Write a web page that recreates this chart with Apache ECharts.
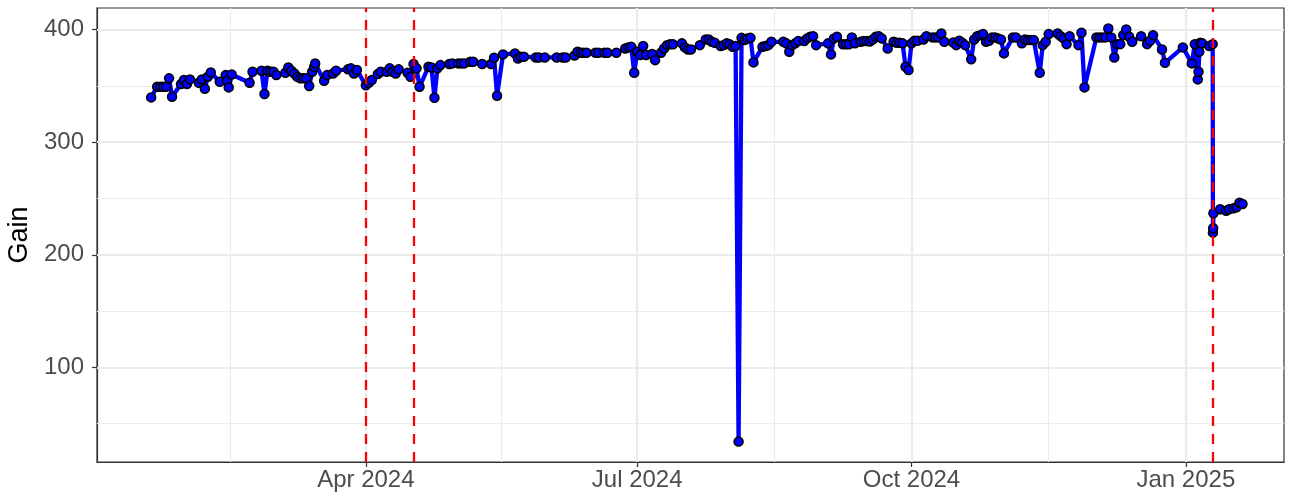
<!DOCTYPE html>
<html><head><meta charset="utf-8">
<script src="https://cdn.jsdelivr.net/npm/echarts@6/dist/echarts.min.js"></script>
<style>html,body{margin:0;padding:0;background:#fff}#c{width:1294px;height:499px}</style>
</head><body><div id="c"></div>
<script>
// ---- data ----
const dates = [
'2024-01-20','2024-01-22','2024-01-23','2024-01-24','2024-01-25','2024-01-26','2024-01-27','2024-01-30','2024-01-31','2024-02-01',
'2024-02-02','2024-02-05','2024-02-06','2024-02-07','2024-02-08','2024-02-09','2024-02-12','2024-02-14','2024-02-14 12:00','2024-02-15',
'2024-02-16','2024-02-22','2024-02-23','2024-02-26','2024-02-27','2024-02-28','2024-02-29','2024-03-01','2024-03-02','2024-03-05',
'2024-03-06','2024-03-07','2024-03-08','2024-03-09','2024-03-10','2024-03-11','2024-03-12','2024-03-13','2024-03-14','2024-03-14 16:00',
'2024-03-15','2024-03-18','2024-03-19','2024-03-21','2024-03-22','2024-03-26','2024-03-27','2024-03-28','2024-03-29','2024-04-01',
'2024-04-02','2024-04-03','2024-04-05','2024-04-06','2024-04-08','2024-04-09','2024-04-10','2024-04-11','2024-04-12','2024-04-15',
'2024-04-16','2024-04-17','2024-04-18','2024-04-19','2024-04-22','2024-04-23','2024-04-24','2024-04-25','2024-04-26','2024-04-29',
'2024-04-30','2024-05-02','2024-05-03','2024-05-04','2024-05-06','2024-05-07','2024-05-10','2024-05-13','2024-05-14','2024-05-15',
'2024-05-17','2024-05-21','2024-05-22','2024-05-23','2024-05-24','2024-05-28','2024-05-29','2024-05-31','2024-06-04','2024-06-06',
'2024-06-07','2024-06-10','2024-06-11','2024-06-12','2024-06-13','2024-06-14','2024-06-17','2024-06-18','2024-06-20','2024-06-21',
'2024-06-24','2024-06-27','2024-06-28','2024-06-29','2024-06-30','2024-07-01','2024-07-02','2024-07-03','2024-07-04','2024-07-06',
'2024-07-07','2024-07-09','2024-07-10','2024-07-11','2024-07-12','2024-07-13','2024-07-16','2024-07-17','2024-07-18','2024-07-19',
'2024-07-22','2024-07-24','2024-07-25','2024-07-26','2024-07-27','2024-07-29','2024-07-30','2024-07-31','2024-08-01','2024-08-02',
'2024-08-03','2024-08-04','2024-08-05','2024-08-06','2024-08-07','2024-08-08','2024-08-09','2024-08-12','2024-08-13','2024-08-14',
'2024-08-15','2024-08-19','2024-08-20','2024-08-21','2024-08-22','2024-08-23','2024-08-24','2024-08-26','2024-08-27','2024-08-28',
'2024-08-29','2024-08-30','2024-09-03','2024-09-04','2024-09-05','2024-09-06','2024-09-08','2024-09-09','2024-09-10','2024-09-11',
'2024-09-12','2024-09-14','2024-09-15','2024-09-16','2024-09-17','2024-09-18','2024-09-19','2024-09-20','2024-09-21','2024-09-23',
'2024-09-25','2024-09-26','2024-09-27','2024-09-28','2024-09-29','2024-09-30','2024-10-01','2024-10-02','2024-10-03','2024-10-05',
'2024-10-06','2024-10-08','2024-10-09','2024-10-10','2024-10-11','2024-10-12','2024-10-15','2024-10-16','2024-10-17','2024-10-18',
'2024-10-19','2024-10-21','2024-10-22','2024-10-23','2024-10-24','2024-10-25','2024-10-26','2024-10-27','2024-10-28','2024-10-29',
'2024-10-30','2024-10-31','2024-11-01','2024-11-04','2024-11-05','2024-11-07','2024-11-08','2024-11-09','2024-11-10','2024-11-11',
'2024-11-13','2024-11-14','2024-11-15','2024-11-16','2024-11-19','2024-11-20','2024-11-21','2024-11-22','2024-11-23','2024-11-26',
'2024-11-27','2024-11-28','2024-12-02','2024-12-03','2024-12-04','2024-12-05','2024-12-06','2024-12-07','2024-12-08','2024-12-09',
'2024-12-10','2024-12-11','2024-12-12','2024-12-13','2024-12-14','2024-12-17','2024-12-19','2024-12-20','2024-12-21','2024-12-24',
'2024-12-25','2024-12-31','2025-01-03','2025-01-04','2025-01-05','2025-01-05 06:00','2025-01-05 12:00','2025-01-05 20:00','2025-01-06 12:00','2025-01-08 20:00',
'2025-01-10','2025-01-10 02:00','2025-01-10 04:00','2025-01-10 06:00','2025-01-12 12:00','2025-01-14 12:00','2025-01-15 12:00','2025-01-17','2025-01-18','2025-01-19',
'2025-01-20'
];
const gains = [
339.8,349.2,349.2,349.2,349.2,356.7,340.4,351.6,355.2,351.6,
355.8,352.8,355.8,347.5,358.1,362.0,353.7,359.6,354.6,348.7,
360.2,352.8,362.6,363.5,342.8,363.5,362.6,362.6,359.6,361.7,
366.4,363.5,361.1,358.1,356.7,356.7,356.7,349.9,362.6,367.0,
370.0,354.6,359.6,361.1,363.5,364.7,365.6,361.1,364.1,350.5,
352.8,355.2,360.5,362.6,362.6,365.6,362.6,361.1,364.7,361.7,
358.1,369.4,365.6,349.2,367.0,366.4,339.5,365.6,368.5,369.4,
370.0,370.0,370.0,370.0,371.4,371.4,369.4,369.4,375.0,341.3,
378.0,378.9,374.4,375.9,375.9,375.3,375.3,375.3,375.3,375.3,
375.3,377.0,380.3,379.4,379.4,379.4,379.4,379.4,379.4,379.4,
379.4,383.3,384.2,384.7,361.7,380.3,377.4,385.4,377.4,378.3,
372.9,379.4,383.3,386.2,386.9,386.9,387.8,384.2,382.4,382.4,
386.2,391.3,391.3,389.2,388.3,385.4,386.2,387.8,386.9,384.7,
385.4,34.1,392.7,390.7,392.2,392.7,370.9,384.7,385.4,386.2,
389.2,389.2,387.8,380.3,386.2,387.8,389.8,389.8,392.2,393.6,
394.2,386.2,387.8,378.0,392.2,393.6,386.9,386.9,386.9,393.1,
387.8,389.2,389.8,389.8,389.5,391.3,393.6,394.2,392.2,383.3,
389.2,388.3,388.3,387.8,367.0,364.1,387.8,390.1,390.1,391.3,
394.2,393.1,393.1,393.1,396.6,389.2,388.6,386.2,390.1,388.3,
386.2,373.6,391.3,394.2,395.1,396.0,389.2,390.1,393.1,393.1,
392.2,391.3,378.9,393.1,393.1,387.8,391.3,390.7,390.7,390.7,
361.7,386.2,389.2,396.0,396.6,394.2,392.2,387.1,394.2,386.2,
397.2,348.7,393.1,393.1,393.1,393.1,401.0,393.1,375.3,387.1,
387.1,395.1,400.1,393.6,389.2,394.2,387.1,390.1,395.1,382.4,
370.5,384.2,370.0,387.1,355.8,362.6,380.3,388.3,387.8,385.4,
387.1,219.7,223.6,236.9,240.5,239.2,240.5,241.3,242.2,246.3,
245.2
];
const xTickDates = ['2024-04-01','2024-07-01','2024-10-01','2025-01-01'];
const xTickLabels = ['Apr 2024','Jul 2024','Oct 2024','Jan 2025'];
const xMinorDates = ['2024-02-15 12:00','2024-05-16 12:00','2024-08-16','2024-11-16'];
const yTicks = [100, 200, 300, 400];
const yMinorTicks = [50, 150, 250, 350];
const eventDates = ['2024-04-01','2024-04-17','2025-01-10'];
const xRange = ['2024-01-01 20:00','2025-02-02 22:00'];
const yRange = [16, 419.2];
const yTitle = 'Gain';

// ---- helpers ----
function t(s){
  const parts = s.split(' ');
  const d = parts[0].split('-').map(Number);
  let h = 0, mi = 0;
  if (parts[1]) { const tm = parts[1].split(':').map(Number); h = tm[0]; mi = tm[1]; }
  return new Date(d[0], d[1]-1, d[2], h, mi).getTime();
}
const seriesData = dates.map((d,i)=>[t(d), gains[i]]);
const xTickVals = xTickDates.map(t);
const GRID = '#EBEBEB';
const gridLines = []
  .concat(yMinorTicks.map(v=>({yAxis:v, lineStyle:{color:GRID,width:1.1,type:'solid'}})))
  .concat(xMinorDates.map(d=>({xAxis:t(d), lineStyle:{color:GRID,width:1.1,type:'solid'}})))
  .concat(yTicks.map(v=>({yAxis:v, lineStyle:{color:GRID,width:2.2,type:'solid'}})))
  .concat(xTickDates.map(d=>({xAxis:t(d), lineStyle:{color:GRID,width:2.2,type:'solid'}})));

const FONT = '"Liberation Sans", Arial, sans-serif';
const chart = echarts.init(document.getElementById('c'), null, {renderer:'canvas'});
chart.setOption({
  animation:false,
  backgroundColor:'#ffffff',
  grid:{left:97,right:10,top:8,bottom:37,show:true,containLabel:false,outerBoundsMode:'none',
        borderColor:'#333333',borderWidth:1.2,backgroundColor:'#ffffff'},
  xAxis:{
    type:'value', min:t(xRange[0]), max:t(xRange[1]), scale:true,
    splitLine:{show:false}, minorSplitLine:{show:false},
    axisLine:{show:true,onZero:false,lineStyle:{color:'#333333',width:1.2}},
    axisTick:{show:true,customValues:xTickVals,length:5,lineStyle:{color:'#333333',width:1.2}},
    axisLabel:{customValues:xTickVals,fontSize:24,color:'#4D4D4D',fontFamily:FONT,margin:6,
      formatter:function(v){const i=xTickVals.indexOf(v); return i>=0?xTickLabels[i]:'';}}
  },
  yAxis:{
    type:'value', min:yRange[0], max:yRange[1],
    splitLine:{show:false},
    axisLine:{show:true,onZero:false,lineStyle:{color:'#333333',width:1.2}},
    axisTick:{show:true,customValues:yTicks,length:5,lineStyle:{color:'#333333',width:1.2}},
    axisLabel:{customValues:yTicks,fontSize:24,color:'#4D4D4D',fontFamily:FONT,margin:13},
    name:yTitle, nameLocation:'middle', nameRotate:90, nameGap:62,
    nameTextStyle:{fontSize:27,color:'#000000',fontFamily:FONT}
  },
  series:[
    {type:'line', data:seriesData, silent:true, showSymbol:false, z:1,
     lineStyle:{opacity:0}, markLine:{silent:true, z:1, symbol:['none','none'], label:{show:false}, data:gridLines}},
    {type:'line', data:seriesData, z:3, showAllSymbol:true, symbol:'circle', symbolSize:9,
     lineStyle:{color:'#0000FF',width:4.3}, itemStyle:{color:'#0000FF',borderColor:'#000000',borderWidth:1.5}},
    {type:'line', data:seriesData, silent:true, showSymbol:false, z:6,
     lineStyle:{opacity:0}, markLine:{silent:true, z:10, symbol:['none','none'], label:{show:false},
       data:eventDates.map(d=>({xAxis:t(d), lineStyle:{color:'#FF0000',width:2.3,type:[10,8]}}))}}
  ]
});
</script></body></html>
